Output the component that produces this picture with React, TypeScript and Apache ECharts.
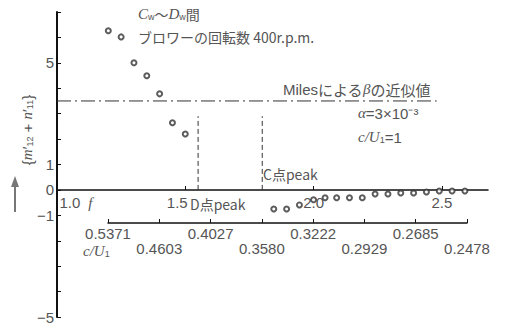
import React, { useEffect, useRef } from "react";
import * as echarts from "echarts";

// ---- data ----
const fBefore = [1.2, 1.25, 1.3, 1.35, 1.4, 1.45, 1.5];
const valBefore = [6.26, 6.02, 5.0, 4.49, 3.78, 2.64, 2.2];
const fAfter = [1.845, 1.895, 1.945, 2.0, 2.045, 2.09, 2.14, 2.19, 2.24, 2.29, 2.34, 2.39, 2.44, 2.49, 2.54, 2.59];
const valAfter = [-0.75, -0.75, -0.59, -0.39, -0.31, -0.31, -0.31, -0.31, -0.16, -0.16, -0.12, -0.12, -0.08, -0.04, -0.04, -0.04];
const milesLevel = 3.5;
const milesRange = [1.0, 2.48];
const dPeakF = 1.55;
const cPeakF = 1.8;
const peakTop = 2.9;
const xTickLabels = ["1.0", "1.5", "2.0", "2.5"];
const yTickShown = [5, 1, 0, -1, -5];
const cOverULabels = ["0.5371", "0.4603", "0.4027", "0.3580", "0.3222", "0.2929", "0.2685", "0.2478"];

const FONT = "'Liberation Sans', 'Noto Sans CJK JP', sans-serif";
const JP = "'Noto Sans CJK JP', 'Liberation Sans', sans-serif";
const TXT = "#555";

export default function App() {
  const ref = useRef<HTMLDivElement>(null);
  useEffect(() => {
    if (!ref.current) return;
    const chart = echarts.init(ref.current, null, { renderer: "svg" });
    const sub = { fontSize: 9, fontFamily: FONT, fill: TXT, verticalAlign: "bottom" as const };
    const ital = { fontSize: 15, fontFamily: "'Liberation Serif', serif", fontStyle: "italic" as const, fill: TXT };
    const norm = { fontSize: 14, fontFamily: JP, fill: TXT };
    const latin = { fontSize: 15, fontFamily: FONT, fill: TXT };
    const option: any = {
      animation: false,
      backgroundColor: "#fff",
      grid: [
        { left: 57, right: 21, top: 12, bottom: 12, outerBoundsMode: "none", containLabel: false },
        { left: 108, right: 42, top: 200, bottom: 106, outerBoundsMode: "none", containLabel: false },
        { left: 57, right: 21, top: 100, bottom: 139, outerBoundsMode: "none", containLabel: false },
      ],
      xAxis: [
        {
          type: "value",
          gridIndex: 0,
          min: 1.0,
          max: 2.68,
          show: false,
          splitLine: { show: false },
        },
        {
          type: "value",
          gridIndex: 1,
          min: 1.2,
          max: 2.6,
          interval: 0.2,
          position: "bottom",
          splitLine: { show: false },
          axisLine: { onZero: false, lineStyle: { color: "#111", width: 1.5 } },
          axisTick: { inside: true, length: 4, lineStyle: { color: "#111" } },
          axisLabel: {
            margin: 3,
            color: TXT,
            fontSize: 15,
            lineHeight: 15,
            fontFamily: FONT,
            formatter: (v: number) => {
              const i = Math.round((v - 1.2) / 0.2);
              const t = cOverULabels[i] ?? "";
              return i % 2 === 1 ? "\n" + t : t;
            },
          },
        },
        {
          type: "value",
          gridIndex: 2,
          min: 1.0,
          max: 2.68,
          interval: 0.5,
          position: "bottom",
          splitLine: { show: false },
          axisLine: { onZero: false, lineStyle: { color: "#111", width: 1.5 } },
          axisTick: { inside: true, length: 4, lineStyle: { color: "#111" } },
          axisLabel: {
            margin: 5,
            color: TXT,
            fontSize: 15,
            fontFamily: FONT,
            showMaxLabel: false,
            formatter: (v: number) => {
              const i = Math.round((v - 1.0) / 0.5);
              const t = xTickLabels[i] ?? "";
              if (i === 0) return "{one|" + t + "}{fi|f}";
              if (i === 1) return "{left|" + t + "}";
              return t;
            },
            rich: {
              one: { padding: [0, 0, 0, 38], fontSize: 15, fontFamily: FONT, color: TXT },
              fi: { padding: [0, 0, 0, 8], fontSize: 15, fontFamily: "'Liberation Serif', serif", fontStyle: "italic", color: TXT },
              left: { padding: [0, 16, 0, 0], fontSize: 15, fontFamily: FONT, color: TXT },
            },
          },
        },
      ],
      yAxis: [
        {
          type: "value",
          gridIndex: 0,
          min: -5,
          max: 7,
          interval: 1,
          splitLine: { show: false },
          axisLine: { onZero: false, lineStyle: { color: "#111", width: 2 } },
          axisTick: { inside: true, length: 4, lineStyle: { color: "#111" } },
          axisLabel: {
            margin: 3,
            color: TXT,
            fontSize: 15,
            fontFamily: FONT,
            formatter: (v: number) =>
              yTickShown.includes(v) ? (v < 0 ? "\u2212" + Math.abs(v) : String(v)) : "",
          },
        },
        { type: "value", gridIndex: 1, show: false, min: 0, max: 1 },
        { type: "value", gridIndex: 2, show: false, min: 0, max: 1 },
      ],
      series: [
        {
          type: "scatter",
          xAxisIndex: 0,
          yAxisIndex: 0,
          symbol: "emptyCircle",
          symbolSize: 5,
          itemStyle: { color: "#333", borderColor: "#333", borderWidth: 1 },
          data: fBefore.map((f, i) => [f, valBefore[i]]),
        },
        {
          type: "scatter",
          xAxisIndex: 0,
          yAxisIndex: 0,
          symbol: "emptyCircle",
          symbolSize: 5,
          itemStyle: { color: "#333", borderColor: "#333", borderWidth: 1 },
          data: fAfter.map((f, i) => [f, valAfter[i]]),
        },
        {
          type: "line",
          xAxisIndex: 0,
          yAxisIndex: 0,
          symbol: "none",
          lineStyle: { color: "#333", width: 1, type: [14, 4, 2, 4] },
          data: milesRange.map((f) => [f, milesLevel]),
        },
        {
          type: "line",
          xAxisIndex: 0,
          yAxisIndex: 0,
          symbol: "none",
          lineStyle: { color: "#333", width: 1, type: [5, 3] },
          data: [
            [dPeakF, 0],
            [dPeakF, peakTop],
          ],
        },
        {
          type: "line",
          xAxisIndex: 0,
          yAxisIndex: 0,
          symbol: "none",
          lineStyle: { color: "#333", width: 1, type: [5, 3] },
          data: [
            [cPeakF, 0],
            [cPeakF, peakTop],
          ],
        },
      ],
      graphic: [
        {
          type: "text",
          x: 138,
          y: 14,
          style: {
            text: "{i|C}{s|w}{n|～}{i|D}{s|w}{n|間}",
            verticalAlign: "middle",
            rich: { i: ital, s: sub, n: norm },
          },
        },
        {
          type: "text",
          x: 138,
          y: 37,
          style: { text: "ブロワーの回転数 400r.p.m.", font: "14px " + JP, fill: TXT, verticalAlign: "middle" },
        },
        {
          type: "text",
          x: 283,
          y: 89,
          style: {
            text: "{l|Miles}{n|による}{i|β}{n|の近似値}",
            verticalAlign: "middle",
            rich: { n: { ...norm, fontSize: 15 }, i: ital, l: latin },
          },
        },
        {
          type: "text",
          x: 358,
          y: 113,
          style: {
            text: "{i|α}{n|=3×10⁻³}",
            verticalAlign: "middle",
            rich: { i: ital, n: latin },
          },
        },
        {
          type: "text",
          x: 358,
          y: 137,
          style: {
            text: "{i|c/U}{s|1}{n|=1}",
            verticalAlign: "middle",
            rich: { i: ital, s: sub, n: latin },
          },
        },
        {
          type: "text",
          x: 263,
          y: 174,
          style: { text: "C点peak", font: "14px " + JP, fill: TXT, verticalAlign: "middle" },
        },
        {
          type: "text",
          x: 190,
          y: 204,
          style: { text: "D点peak", font: "14px " + JP, fill: TXT, verticalAlign: "middle" },
        },
        {
          type: "text",
          x: 83,
          y: 251,
          style: {
            text: "{i|c/U}{s|1}",
            verticalAlign: "middle",
            rich: { i: ital, s: sub },
          },
        },
        {
          type: "text",
          x: 27,
          y: 130,
          rotation: Math.PI / 2,
          style: {
            text: "{{i|m}′{s|12} + {i|n}′{s|11}}",
            font: "15px " + FONT,
            fill: TXT,
            align: "center",
            verticalAlign: "middle",
            rich: { i: ital, s: sub },
          },
        },
        {
          type: "line",
          shape: { x1: 15, y1: 212, x2: 15, y2: 184 },
          style: { stroke: "#777", lineWidth: 2 },
        },
        {
          type: "polygon",
          shape: { points: [[11, 187], [19, 187], [15, 176]] },
          style: { fill: "#777" },
        },
      ],
    };
    chart.setOption(option);
    return () => chart.dispose();
  }, []);
  return <div ref={ref} style={{ position: "absolute", left: 0, top: 0, width: 509, height: 329 }} />;
}
